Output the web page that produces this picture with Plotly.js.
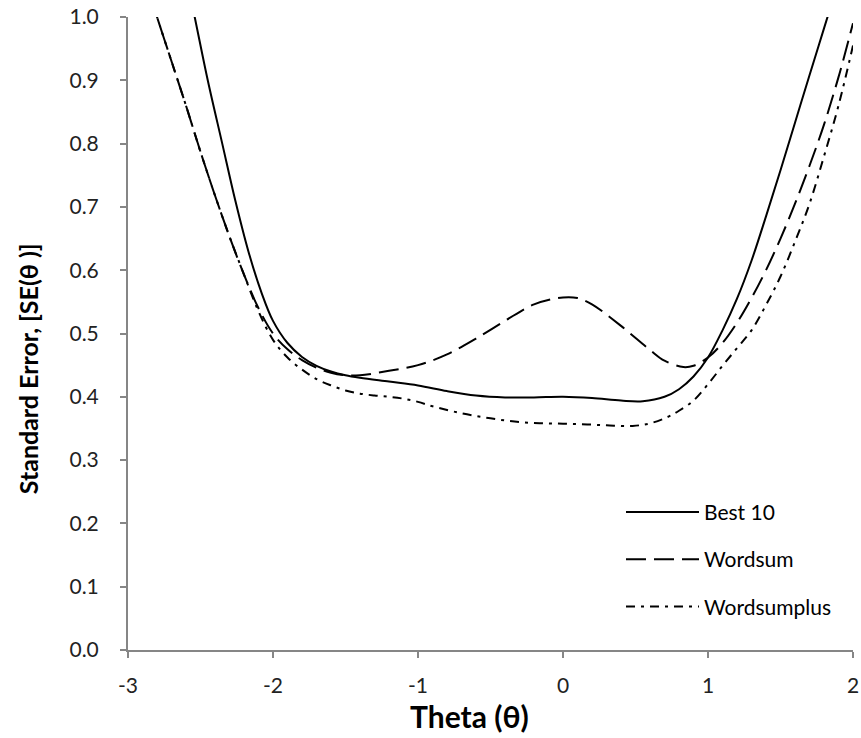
<!DOCTYPE html>
<html>
<head>
<meta charset="utf-8">
<script src="https://cdn.plot.ly/plotly-3.0.1.min.js"></script>
<style>html,body{margin:0;padding:0;background:#fff;}#chart{width:861px;height:738px;}</style>
</head>
<body>
<div id="chart"></div>
<script>
// Theta values and standard errors
const best10Theta = [-2.64, -2.54, -2.45, -2.35, -2.26, -2.17, -2.08, -2.0, -1.9, -1.8, -1.7, -1.6, -1.5, -1.4, -1.2, -1.0, -0.8, -0.6, -0.4, -0.2, 0.0, 0.2, 0.4, 0.55, 0.7, 0.8, 0.9, 1.0, 1.1, 1.2, 1.3, 1.4, 1.5, 1.6, 1.7, 1.8, 1.9];
const best10SE    = [1.11, 1.0, 0.90, 0.80, 0.71, 0.63, 0.565, 0.52, 0.485, 0.463, 0.449, 0.440, 0.434, 0.430, 0.424, 0.418, 0.409, 0.402, 0.399, 0.399, 0.400, 0.398, 0.394, 0.393, 0.400, 0.412, 0.432, 0.462, 0.505, 0.555, 0.615, 0.685, 0.758, 0.833, 0.908, 0.982, 1.056];

const wordsumTheta = [-2.9, -2.8, -2.7, -2.6, -2.5, -2.4, -2.3, -2.2, -2.1, -2.0, -1.9, -1.8, -1.7, -1.6, -1.5, -1.4, -1.2, -1.0, -0.8, -0.6, -0.4, -0.2, 0.0, 0.1, 0.2, 0.4, 0.6, 0.7, 0.83, 0.9, 1.0, 1.1, 1.2, 1.3, 1.4, 1.5, 1.6, 1.7, 1.8, 1.9, 2.0];
const wordsumSE    = [1.07, 1.0, 0.93, 0.86, 0.787, 0.718, 0.653, 0.593, 0.54, 0.50, 0.475, 0.458, 0.446, 0.438, 0.434, 0.434, 0.441, 0.450, 0.467, 0.492, 0.520, 0.546, 0.557, 0.556, 0.546, 0.512, 0.474, 0.457, 0.447, 0.449, 0.462, 0.485, 0.517, 0.556, 0.600, 0.650, 0.705, 0.765, 0.830, 0.905, 0.990];

const plusTheta = [-2.9, -2.8, -2.7, -2.6, -2.5, -2.4, -2.3, -2.2, -2.1, -2.0, -1.9, -1.8, -1.7, -1.6, -1.5, -1.4, -1.3, -1.2, -1.1, -1.0, -0.9, -0.7, -0.5, -0.3, -0.1, 0.1, 0.3, 0.48, 0.6, 0.72, 0.8, 0.9, 1.0, 1.1, 1.2, 1.3, 1.4, 1.5, 1.6, 1.7, 1.8, 1.9, 2.0];
const plusSE    = [1.07, 1.0, 0.93, 0.86, 0.787, 0.718, 0.653, 0.593, 0.535, 0.490, 0.462, 0.443, 0.428, 0.418, 0.410, 0.405, 0.402, 0.400, 0.397, 0.392, 0.385, 0.374, 0.366, 0.360, 0.358, 0.357, 0.355, 0.354, 0.358, 0.368, 0.378, 0.394, 0.420, 0.449, 0.477, 0.505, 0.545, 0.590, 0.645, 0.705, 0.780, 0.860, 0.955];

const seriesNames = ["Best 10", "Wordsum", "Wordsumplus"];
const xTickVals = [-3, -2, -1, 0, 1, 2];
const xTickText = ["-3", "-2", "-1", "0", "1", "2"];
const yTickVals = [0, 0.1, 0.2, 0.3, 0.4, 0.5, 0.6, 0.7, 0.8, 0.9, 1.0];
const xTitle = "Theta (θ)";
const yTitle = "Standard Error, [SE(θ )]";

const font = "Lato, 'Open Sans', sans-serif";
const mk = (x, y, name, dash, grp) => ({
  x: x, y: y, name: name, legendgroup: grp, type: "scatter", mode: "lines",
  line: {color: "#000", width: 2, dash: dash, shape: "spline", smoothing: 1},
  hoverinfo: "x+y+name"
});

const data = [
  mk(best10Theta, best10SE, seriesNames[0], "solid", "g1"),
  mk(wordsumTheta, wordsumSE, seriesNames[1], "20px,8px", "g2"),
  mk(plusTheta, plusSE, seriesNames[2], "9px,6px,3px,6px", "g3")
];

const axisCommon = {
  showgrid: false, zeroline: false, showline: true,
  linecolor: "#868686", linewidth: 2,
  ticks: "outside", ticklen: 6, tickcolor: "#868686", tickwidth: 2,
  tickfont: {family: font, size: 21, color: "#222"}
};

const layout = {
  width: 861, height: 738,
  margin: {l: 128, r: 8, t: 17, b: 88},
  paper_bgcolor: "#fff", plot_bgcolor: "#fff",
  font: {family: font, color: "#000"},
  showlegend: true,
  legend: {
    x: 0.68, y: 0.25, xanchor: "left", yanchor: "top",
    bgcolor: "rgba(0,0,0,0)",
    font: {family: font, size: 21, color: "#000"},
    itemwidth: 73, tracegroupgap: 17
  },
  xaxis: Object.assign({}, axisCommon, {
    range: [-3, 2], tickvals: xTickVals, ticktext: xTickText, ticklabelstandoff: 10
  }),
  yaxis: Object.assign({}, axisCommon, {
    range: [0, 1], tickvals: yTickVals, tickformat: ".1f", ticklabelstandoff: 17
  }),
  annotations: [
    {text: xTitle, xref: "paper", yref: "paper", x: 0.4717, y: -0.104, xanchor: "center", yanchor: "middle",
     showarrow: false, font: {family: font, size: 30, color: "#000", weight: "bold"}},
    {text: yTitle, xref: "paper", yref: "paper", x: -0.138, y: 0.445, xanchor: "center", yanchor: "middle",
     textangle: -90, showarrow: false, font: {family: font, size: 25, color: "#000", weight: "bold"}}
  ]
};

Plotly.newPlot("chart", data, layout, {displayModeBar: false, staticPlot: true});
</script>
</body>
</html>
